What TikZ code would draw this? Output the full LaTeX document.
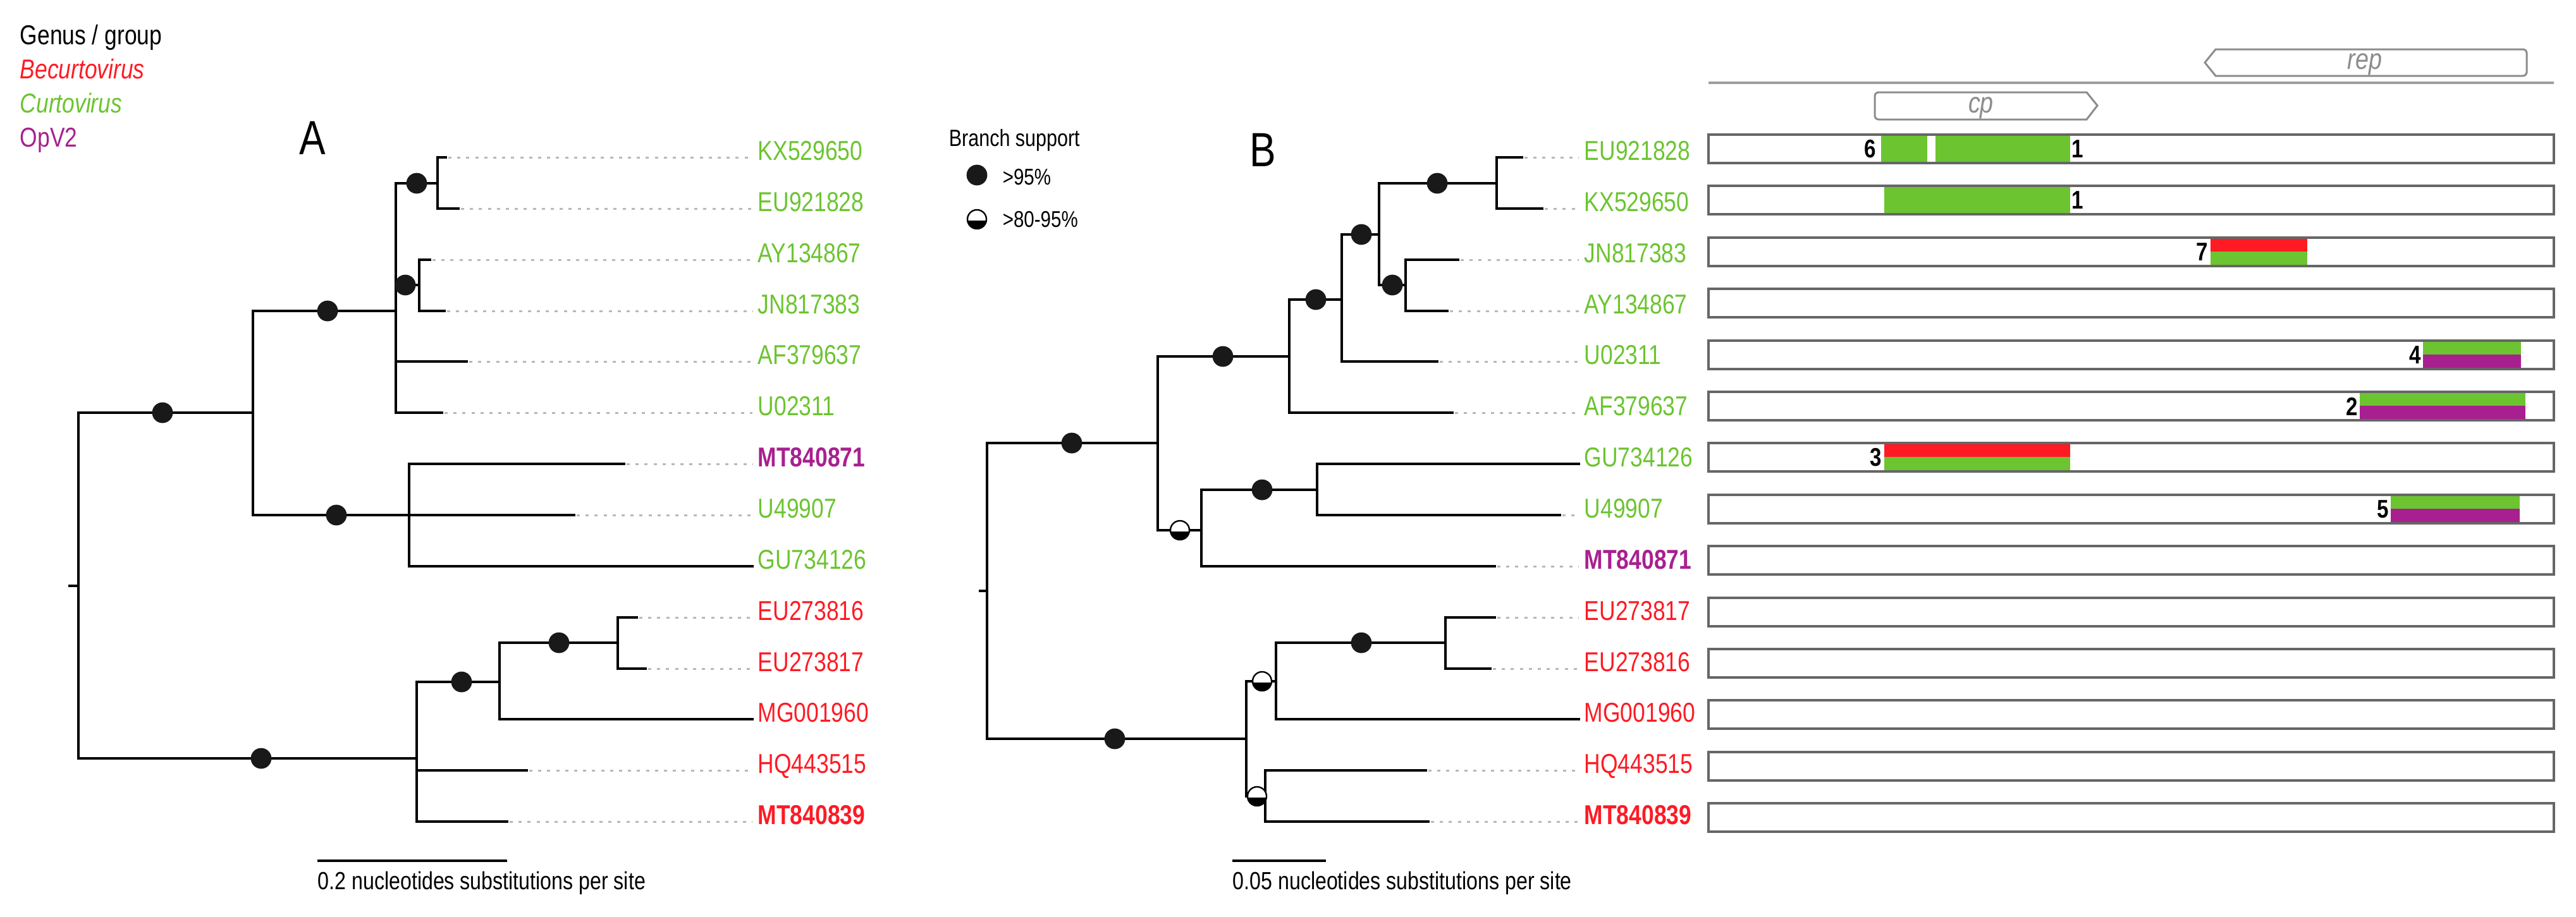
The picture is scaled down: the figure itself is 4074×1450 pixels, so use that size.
\documentclass[tikz,border=0pt]{standalone}
\usepackage{fontspec}
\setmainfont{Liberation Sans}[FakeStretch=0.82]
\definecolor{cgreen}{RGB}{108,196,48}
\definecolor{cred}{RGB}{255,26,36}
\definecolor{cpurp}{RGB}{168,32,143}
\definecolor{boxgray}{RGB}{102,102,102}
\definecolor{genegray}{RGB}{140,140,140}
\tikzset{
  br/.style={line width=0.8pt, black, line cap=rect},
  dl/.style={line width=0.75pt, black!28, dash pattern=on 1.25pt off 2.3pt},
  fdot/.style={circle, fill=black!90, inner sep=0pt, minimum size=8.2pt},
  hdot/.style={circle, draw=black, fill=white, line width=0.6pt, inner sep=0pt, minimum size=7.5pt,
    path picture={\fill[black] ([yshift=-0.4pt]path picture bounding box.west) rectangle (path picture bounding box.south east);}},
  lab/.style={anchor=base west, inner sep=0pt, font=\fontsize{10.8}{13}\selectfont},
  num/.style={inner sep=0pt, font=\fontsize{10.1}{12}\bfseries\selectfont},
  genbox/.style={draw=boxgray, line width=1pt},
  gene/.style={draw=genegray, line width=0.75pt, fill=white},
  genetxt/.style={anchor=base, inner sep=0pt, text=genegray, font=\fontsize{11.5}{13}\itshape\selectfont},
  legtxt/.style={anchor=base west, inner sep=0pt, font=\fontsize{9}{11}\selectfont},
  scaletxt/.style={anchor=base west, inner sep=0pt, font=\fontsize{9.8}{12}\selectfont},
  panel/.style={anchor=base west, inner sep=0pt, font=\fontsize{19}{22}\selectfont}
}
\begin{document}
\begin{tikzpicture}[x=0.25pt, y=-0.25pt]
\useasboundingbox (0,0) rectangle (4074,1450);

% ---------- genus legend ----------
\node[lab] (g0) at (31,70) {Genus / group};
\node[lab, text=cred, font=\fontsize{10.8}{13}\itshape\selectfont] (g1) at (31,124) {Becurtovirus};
\node[lab, text=cgreen, font=\fontsize{10.8}{13}\itshape\selectfont] (g2) at (31,178) {Curtovirus};
\node[lab, text=cpurp] (g3) at (31,232) {OpV2};

\node[panel] (pA) at (473,244) {A};
\node[panel] (pB) at (1976,263) {B};

% ---------- branch support legend ----------
\node[legtxt, font=\fontsize{9.3}{11}\selectfont] (bs) at (1500,231) {Branch support};
\node[fdot] (ld1) at (1545,277) {};
\node[legtxt] (lt1) at (1585,292) {>95\%};
\node[hdot] (ld2) at (1545,347) {};
\node[legtxt] (lt2) at (1585,359) {>80-95\%};

% ---------- tree A ----------
\draw[br] (110,927) -- (124,927);
\draw[br] (400,653) -- (124,653) -- (124,1200) -- (659,1200);
\draw[br] (626,492) -- (400,492) -- (400,815) -- (647,815);
\draw[br] (692,290) -- (626,290) -- (626,653) -- (699,653);
\draw[br] (626,451) -- (663,451);
\draw[br] (626,572) -- (738,572);
\draw[br] (705,249) -- (692,249) -- (692,330) -- (725,330);
\draw[br] (680,411) -- (663,411) -- (663,492) -- (703,492);
\draw[br] (987,734) -- (647,734) -- (647,896) -- (1190,896);
\draw[br] (647,815) -- (908,815);
\draw[br] (790,1079) -- (659,1079) -- (659,1300) -- (802,1300);
\draw[br] (659,1219) -- (833,1219);
\draw[br] (977,1017) -- (790,1017) -- (790,1138) -- (1190,1138);
\draw[br] (1007,977) -- (977,977) -- (977,1058) -- (1021,1058);

\foreach \xa/\ya in {705/249,725/330,680/411,703/492,738/572,699/653,987/734,908/815,1007/977,1021/1058,833/1219,802/1300}
  \draw[dl] (\xa+4,\ya) -- (1190,\ya);

\node[fdot] (a1) at (659,290) {};
\node[fdot] (a2) at (641,451) {};
\node[fdot] (a3) at (518,492) {};
\node[fdot] (a4) at (257,653) {};
\node[fdot] (a5) at (532,815) {};
\node[fdot] (a6) at (884,1017) {};
\node[fdot] (a7) at (730,1079) {};
\node[fdot] (a8) at (413,1200) {};

\node[lab, text=cgreen] (ta0) at (1198,253) {KX529650};
\node[lab, text=cgreen] (ta1) at (1198,334) {EU921828};
\node[lab, text=cgreen] (ta2) at (1198,415) {AY134867};
\node[lab, text=cgreen] (ta3) at (1198,496) {JN817383};
\node[lab, text=cgreen] (ta4) at (1198,576) {AF379637};
\node[lab, text=cgreen] (ta5) at (1198,657) {U02311};
\node[lab, text=cpurp, font=\fontsize{10.8}{13}\bfseries\selectfont] (ta6) at (1198,738) {MT840871};
\node[lab, text=cgreen] (ta7) at (1198,819) {U49907};
\node[lab, text=cgreen] (ta8) at (1198,900) {GU734126};
\node[lab, text=cred] (ta9) at (1198,981) {EU273816};
\node[lab, text=cred] (ta10) at (1198,1062) {EU273817};
\node[lab, text=cred] (ta11) at (1198,1142) {MG001960};
\node[lab, text=cred] (ta12) at (1198,1223) {HQ443515};
\node[lab, text=cred, font=\fontsize{10.8}{13}\bfseries\selectfont] (ta13) at (1198,1304) {MT840839};

% scale A
\coordinate (sa1) at (502,1362);
\coordinate (sa2) at (802,1362);
\draw[br, line cap=butt] (sa1) -- (sa2);
\node[scaletxt] (sat) at (502,1407) {0.2 nucleotides substitutions per site};

% ---------- tree B ----------
\draw[br] (1550,935) -- (1561,935);
\draw[br] (1831,701) -- (1561,701) -- (1561,1169) -- (1971,1169);
\draw[br] (2039,564) -- (1831,564) -- (1831,839) -- (1900,839);
\draw[br] (2122,474) -- (2039,474) -- (2039,653) -- (2297,653);
\draw[br] (2181,371) -- (2122,371) -- (2122,572) -- (2273,572);
\draw[br] (2367,290) -- (2181,290) -- (2181,451) -- (2223,451);
\draw[br] (2407,249) -- (2367,249) -- (2367,330) -- (2439,330);
\draw[br] (2306,411) -- (2223,411) -- (2223,492) -- (2289,492);
\draw[br] (2083,775) -- (1900,775) -- (1900,896) -- (2364,896);
\draw[br] (2497,734) -- (2083,734) -- (2083,815) -- (2467,815);
\draw[br] (2018,1078) -- (1971,1078) -- (1971,1260) -- (2001,1260);
\draw[br] (2286,1017) -- (2018,1017) -- (2018,1138) -- (2497,1138);
\draw[br] (2364,977) -- (2286,977) -- (2286,1058) -- (2357,1058);
\draw[br] (2255,1219) -- (2001,1219) -- (2001,1300) -- (2259,1300);

\foreach \xb/\yb in {2407/249,2439/330,2306/411,2289/492,2273/572,2297/653,2467/815,2364/896,2364/977,2357/1058,2255/1219,2259/1300}
  \draw[dl] (\xb+4,\yb) -- (2497,\yb);

\node[fdot] (b1) at (1695,701) {};
\node[fdot] (b2) at (1934,564) {};
\node[fdot] (b3) at (2081,474) {};
\node[fdot] (b4) at (2153,371) {};
\node[fdot] (b5) at (2273,290) {};
\node[fdot] (b6) at (2202,451) {};
\node[fdot] (b7) at (1996,775) {};
\node[fdot] (b8) at (1763,1169) {};
\node[fdot] (b9) at (2153,1017) {};
\node[hdot] (h1) at (1866,839) {};
\node[hdot] (h2) at (1996,1078) {};
\node[hdot] (h3) at (1988,1260) {};

\node[lab, text=cgreen] (tb0) at (2505,253) {EU921828};
\node[lab, text=cgreen] (tb1) at (2505,334) {KX529650};
\node[lab, text=cgreen] (tb2) at (2505,415) {JN817383};
\node[lab, text=cgreen] (tb3) at (2505,496) {AY134867};
\node[lab, text=cgreen] (tb4) at (2505,576) {U02311};
\node[lab, text=cgreen] (tb5) at (2505,657) {AF379637};
\node[lab, text=cgreen] (tb6) at (2505,738) {GU734126};
\node[lab, text=cgreen] (tb7) at (2505,819) {U49907};
\node[lab, text=cpurp, font=\fontsize{10.8}{13}\bfseries\selectfont] (tb8) at (2505,900) {MT840871};
\node[lab, text=cred] (tb9) at (2505,981) {EU273817};
\node[lab, text=cred] (tb10) at (2505,1062) {EU273816};
\node[lab, text=cred] (tb11) at (2505,1142) {MG001960};
\node[lab, text=cred] (tb12) at (2505,1223) {HQ443515};
\node[lab, text=cred, font=\fontsize{10.8}{13}\bfseries\selectfont] (tb13) at (2505,1304) {MT840839};

% scale B
\coordinate (sb1) at (1949,1362);
\coordinate (sb2) at (2097,1362);
\draw[br, line cap=butt] (sb1) -- (sb2);
\node[scaletxt] (sbt) at (1949,1407) {0.05 nucleotides substitutions per site};

% ---------- genome map ----------
\draw[draw=genegray!85, line width=0.9pt] (2702,131) -- (4039,131);
\draw[gene] (3504,78) [rounded corners=1.5pt] -- (3996,78) -- (3996,120) [sharp corners] -- (3504,120) -- (3487,99) -- cycle;
\node[genetxt] (rep) at (3740,109) {rep};
\draw[gene] (3300,146) -- (3317,167) -- (3300,189) [rounded corners=1.5pt] -- (2965,189) -- (2965,146) [sharp corners] -- cycle;
\node[genetxt] (cp) at (3133,178) {cp};

% recombinant fragments
% row 0 EU921828
\fill[cgreen] (2975,213) rectangle (3048,258);
\fill[cgreen] (3061,213) rectangle (3274,258);
% row 1 KX529650
\fill[cgreen] (2980,294) rectangle (3274,339);
% row 2 JN817383
\fill[cred] (3496,376) rectangle (3649,398);
\fill[cgreen] (3496,398) rectangle (3649,421);
% row 4 U02311
\fill[cgreen] (3832,539) rectangle (3987,561);
\fill[cpurp] (3832,561) rectangle (3987,584);
% row 5 AF379637
\fill[cgreen] (3732,620) rectangle (3994,642);
\fill[cpurp] (3732,642) rectangle (3994,665);
% row 6 GU734126
\fill[cred] (2980,701) rectangle (3274,723);
\fill[cgreen] (2980,723) rectangle (3274,746);
% row 7 U49907
\fill[cgreen] (3781,783) rectangle (3985,805);
\fill[cpurp] (3781,805) rectangle (3985,828);

\foreach \t [count=\k] in {213,294,376,457,539,620,701,783,864,946,1027,1108,1190,1271}
  \draw[genbox] (2702,\t) rectangle (4039,\t+45);

\node[num, anchor=east] (n6) at (2968,236) {6};
\node[num, anchor=west] (n1a) at (3276,236) {1};
\node[num, anchor=west] (n1b) at (3276,317) {1};
\node[num, anchor=east] (n7) at (3493,399) {7};
\node[num, anchor=east] (n4) at (3830,562) {4};
\node[num, anchor=east] (n2) at (3730,643) {2};
\node[num, anchor=east] (n3) at (2977,724) {3};
\node[num, anchor=east] (n5) at (3779,806) {5};
\end{tikzpicture}
\end{document}
